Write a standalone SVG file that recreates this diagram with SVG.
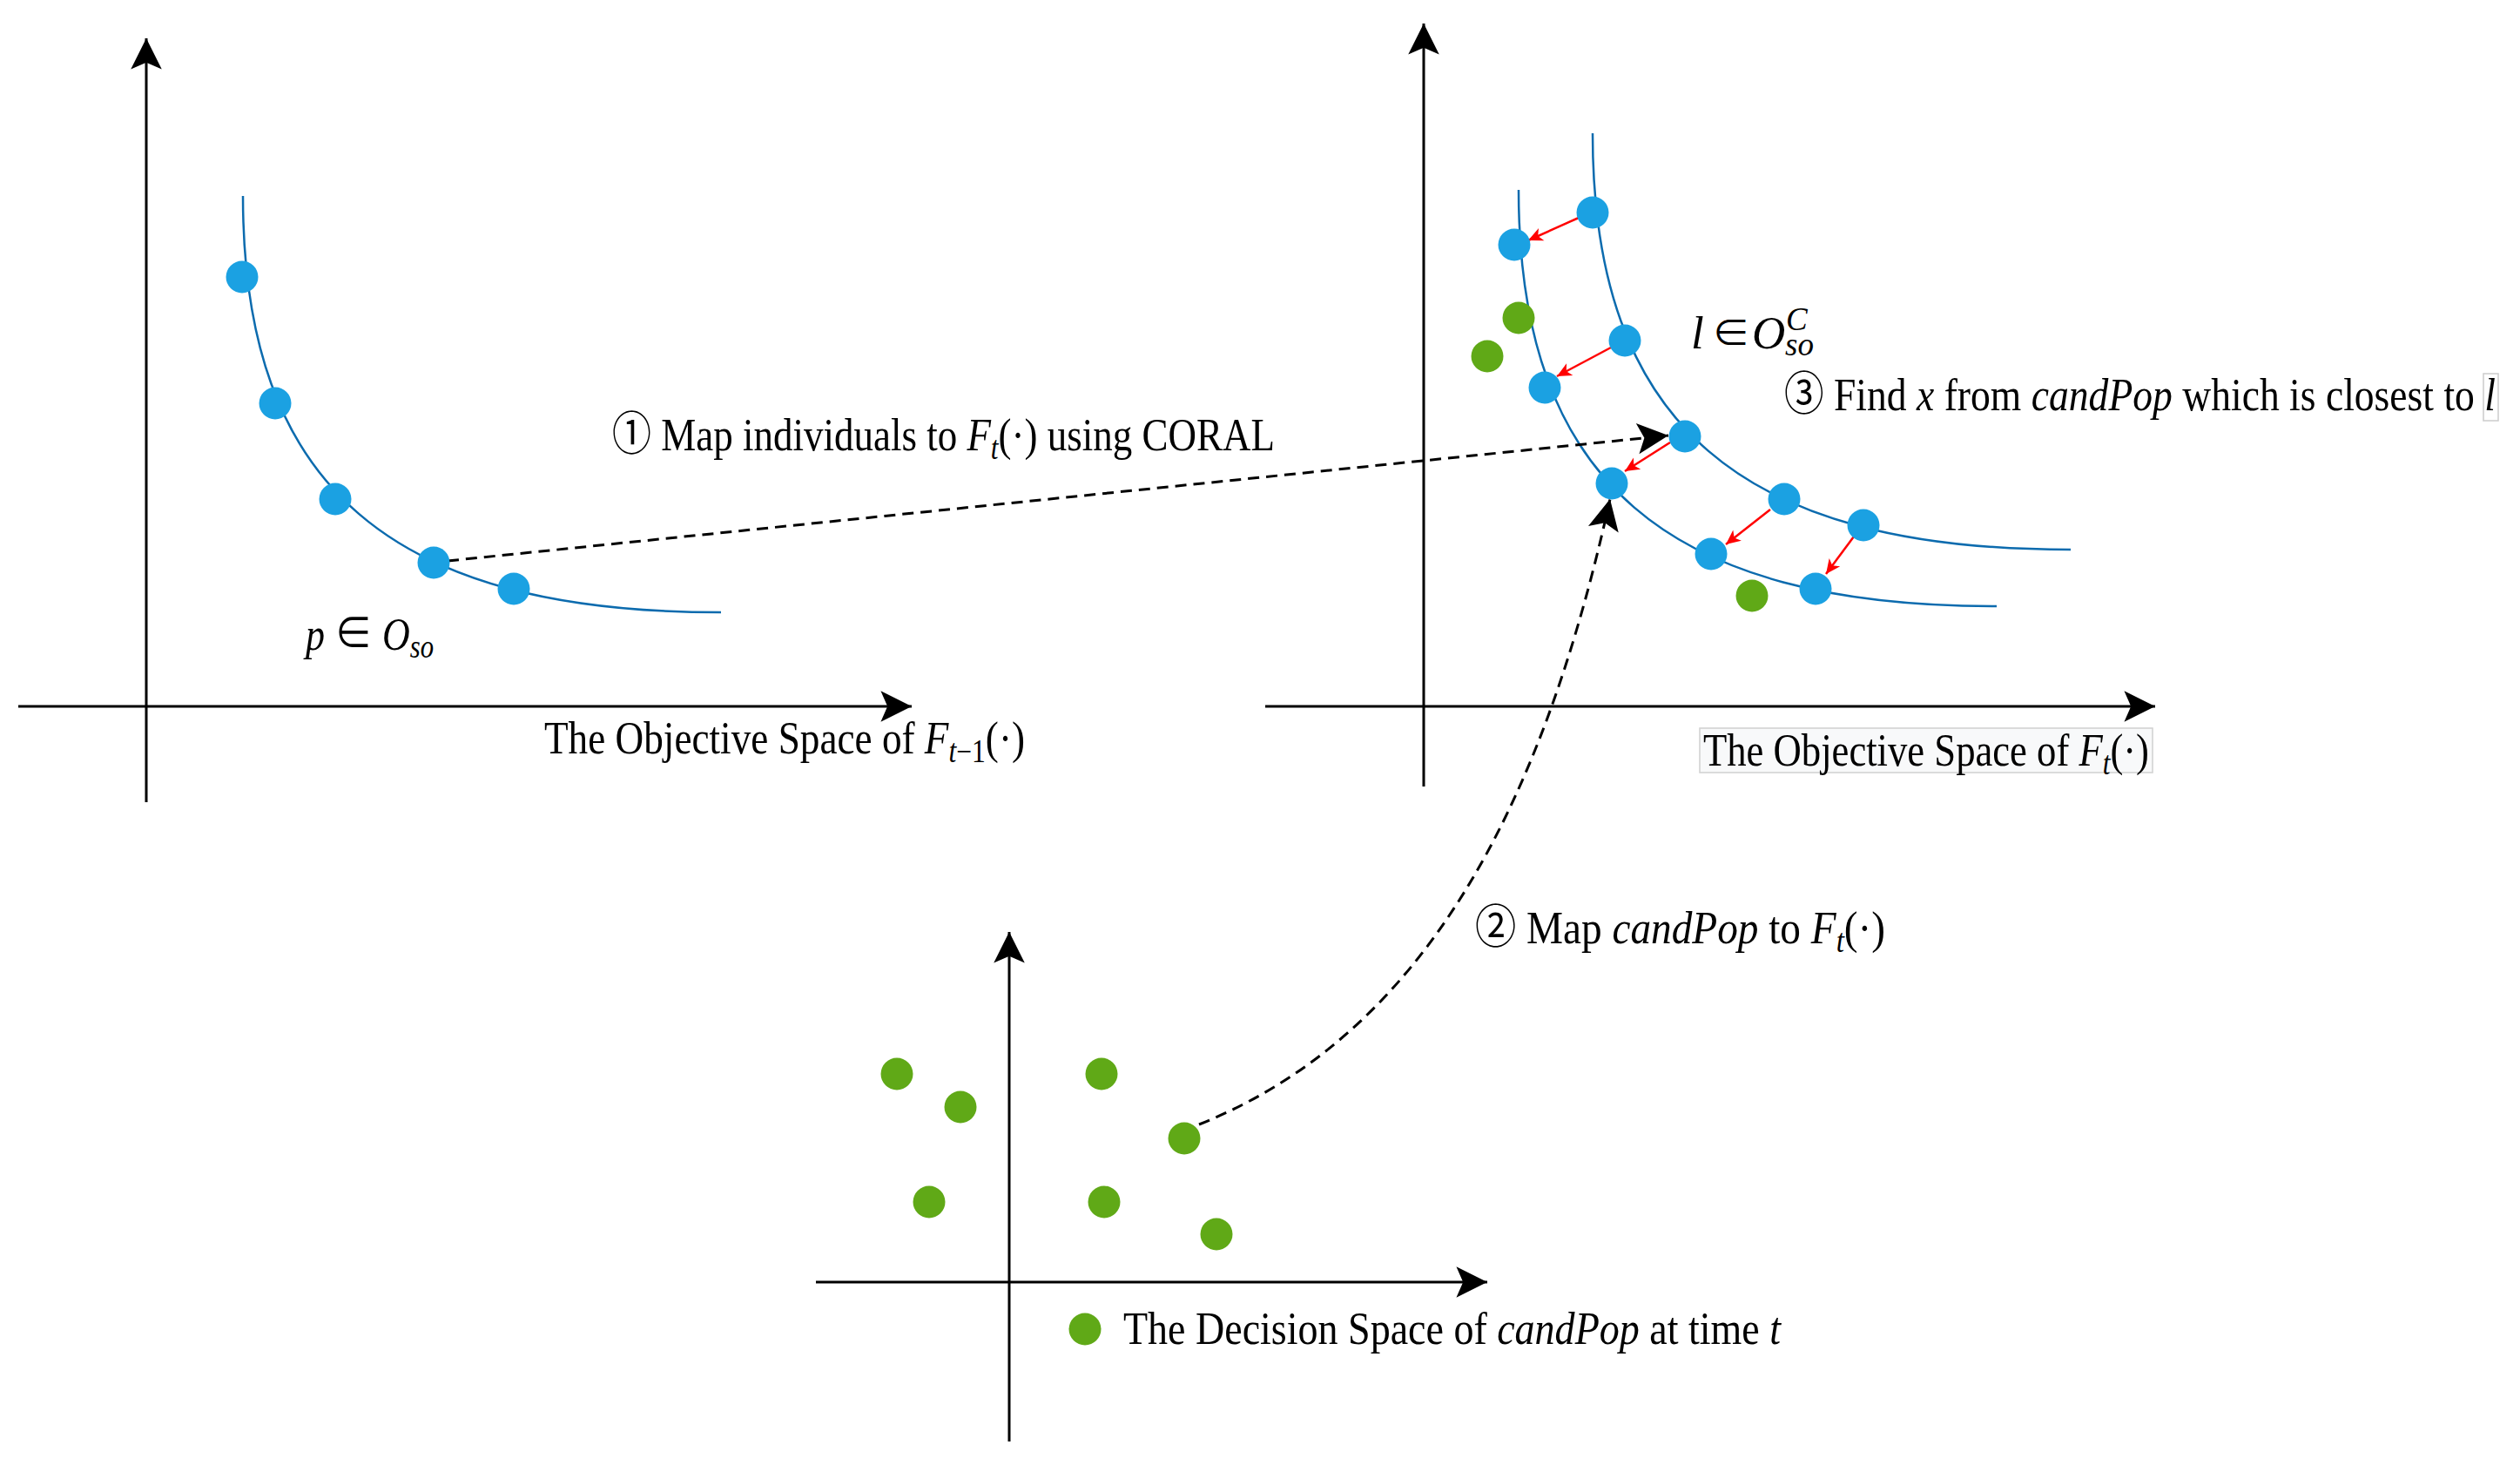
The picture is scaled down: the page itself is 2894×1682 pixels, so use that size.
<svg xmlns="http://www.w3.org/2000/svg" width="2894" height="1682" viewBox="0 0 2894 1682">
<defs>
<style>
.axis{stroke:#000;stroke-width:3;fill:none;marker-end:url(#ah)}
.curve{stroke:#0C6BAE;stroke-width:2.5;fill:none}
.blue{fill:#1BA1E2}
.green{fill:#60A917}
.dash{stroke:#000;stroke-width:3;fill:none;stroke-dasharray:13 8;marker-end:url(#ah)}
.red{stroke:#FF0000;stroke-width:2.5;fill:none;marker-end:url(#rh)}
text{font-family:"Liberation Serif","Noto Sans CJK SC",serif;font-size:53px;fill:#000}
.it{font-style:italic}
.sub{font-size:37px}
</style>
<marker id="ah" markerUnits="userSpaceOnUse" markerWidth="40" markerHeight="40" viewBox="-34 -18 36 36" refX="0" refY="0" orient="auto"><path d="M0,0 L-32,-16 L-25,0 L-32,16 Z" fill="#000"/></marker>
<marker id="rh" markerUnits="userSpaceOnUse" markerWidth="20" markerHeight="20" viewBox="-17 -9 18 18" refX="0" refY="0" orient="auto"><path d="M0,0 L-15,-7 L-11,0 L-15,7 Z" fill="#FF0000"/></marker>
</defs>
<rect width="2894" height="1682" fill="#fff"/>

<g id="axes-left">
<path class="axis" d="M168,921 L168,44"/>
<path class="axis" d="M21,811 L1047,811"/>
</g>
<g id="axes-right">
<path class="axis" d="M1635,903 L1635,27"/>
<path class="axis" d="M1453,811 L2475,811"/>
</g>
<g id="axes-decision">
<path class="axis" d="M1159,1655 L1159,1070"/>
<path class="axis" d="M937,1472 L1708,1472"/>
</g>

<g id="curves">
<path id="curve-left" class="curve" d="M279,225 C279,560 450,703 828,703"/>
<path id="curve-outer" class="curve" d="M1829,153 C1829,488 2000,631 2378,631"/>
<path id="curve-inner" class="curve" d="M1744,218 C1744,553 1915,696 2293,696"/>
</g>

<g id="connectors">
<path id="map1" class="dash" d="M514,644 L1916,500"/>
<path id="map2" class="dash" d="M1377,1291 C1637,1187 1772,923 1849,573"/>
<path class="red" d="M1813,250 L1755,276"/>
<path class="red" d="M1850,399 L1788,432"/>
<path class="red" d="M1918,508 L1866,541"/>
<path class="red" d="M2033,585 L1982,625"/>
<path class="red" d="M2129,616 L2097,659"/>
</g>

<g id="left-points">
<circle class="blue" cx="278" cy="318" r="18.5"/>
<circle class="blue" cx="316" cy="463" r="18.5"/>
<circle class="blue" cx="385" cy="573" r="18.5"/>
<circle class="blue" cx="498" cy="646" r="18.5"/>
<circle class="blue" cx="590" cy="676" r="18.5"/>
</g>
<g id="outer-points">
<circle class="blue" cx="1829" cy="244" r="18.5"/>
<circle class="blue" cx="1866" cy="391" r="18.5"/>
<circle class="blue" cx="1935" cy="501" r="18.5"/>
<circle class="blue" cx="2049" cy="573" r="18.5"/>
<circle class="blue" cx="2140" cy="603" r="18.5"/>
</g>
<g id="inner-points">
<circle class="blue" cx="1739" cy="281" r="18.5"/>
<circle class="blue" cx="1774" cy="445" r="18.5"/>
<circle class="blue" cx="1851" cy="555" r="18.5"/>
<circle class="blue" cx="1965" cy="636" r="18.5"/>
<circle class="blue" cx="2085" cy="676" r="18.5"/>
</g>
<g id="right-green-points">
<circle class="green" cx="1744" cy="365" r="18.5"/>
<circle class="green" cx="1708" cy="409" r="18.5"/>
<circle class="green" cx="2012" cy="684" r="18.5"/>
</g>
<g id="decision-points">
<circle class="green" cx="1030" cy="1233" r="18.5"/>
<circle class="green" cx="1103" cy="1271" r="18.5"/>
<circle class="green" cx="1265" cy="1233" r="18.5"/>
<circle class="green" cx="1360" cy="1307" r="18.5"/>
<circle class="green" cx="1067" cy="1380" r="18.5"/>
<circle class="green" cx="1268" cy="1380" r="18.5"/>
<circle class="green" cx="1397" cy="1417" r="18.5"/>
</g>

<g id="label-p">
<text x="351" y="746" textLength="147" lengthAdjust="spacingAndGlyphs"><tspan class="it">p</tspan> ∈ <tspan class="it">O</tspan><tspan class="it sub" dy="9">so</tspan></text>
</g>
<g id="label-left-space">
<text x="625" y="865" textLength="552" lengthAdjust="spacingAndGlyphs">The Objective Space of <tspan class="it">F</tspan><tspan class="it sub" dy="10">t</tspan><tspan class="sub">−1</tspan><tspan dy="-10">(·)</tspan></text>
</g>
<g id="label-right-space">
<rect x="1952" y="836" width="520" height="51" fill="#F8F9FA" stroke="#D0D0D0" stroke-width="1.5"/>
<text x="1956" y="879" textLength="512" lengthAdjust="spacingAndGlyphs">The Objective Space of <tspan class="it">F</tspan><tspan class="it sub" dy="10">t</tspan><tspan dy="-10">(·)</tspan></text>
</g>
<g id="label-step1">
<text x="703" y="517" textLength="761" lengthAdjust="spacingAndGlyphs">① Map individuals to <tspan class="it">F</tspan><tspan class="it sub" dy="10">t</tspan><tspan dy="-10">(·) using CORAL</tspan></text>
</g>
<g id="label-l">
<text x="1942" y="400" class="it">l</text>
<text x="1966" y="398" style="font-size:44px">∈</text>
<text x="2012" y="400" class="it">O</text>
<text x="2051" y="379" class="it sub">C</text>
<text x="2050" y="408" class="it sub">so</text>
</g>
<g id="label-step3">
<rect x="2852" y="429" width="17" height="54" fill="none" stroke="#CCCCCC" stroke-width="1.5"/>
<text x="2049" y="471" textLength="817" lengthAdjust="spacingAndGlyphs">③ Find <tspan class="it">x</tspan> from <tspan class="it">candPop</tspan> which is closest to <tspan class="it">l</tspan></text>
</g>
<g id="label-step2">
<text x="1694" y="1083" textLength="471" lengthAdjust="spacingAndGlyphs">② Map <tspan class="it">candPop</tspan> to <tspan class="it">F</tspan><tspan class="it sub" dy="10">t</tspan><tspan dy="-10">(·)</tspan></text>
</g>
<g id="legend">
<circle class="green" cx="1246" cy="1526" r="18.5"/>
<text x="1290" y="1543" textLength="755" lengthAdjust="spacingAndGlyphs">The Decision Space of  <tspan class="it">candPop</tspan> at time <tspan class="it">t</tspan></text>
</g>
</svg>
